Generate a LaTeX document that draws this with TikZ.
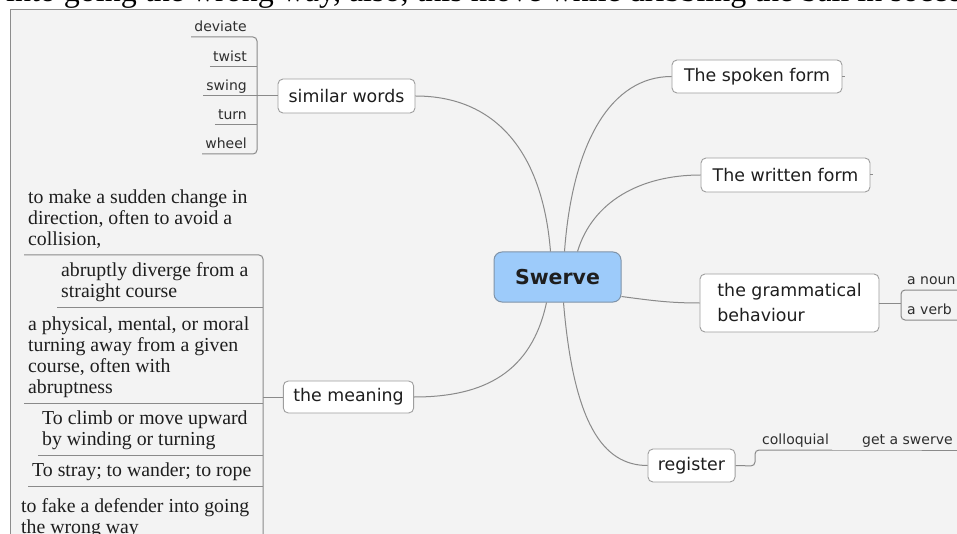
\documentclass[tikz,border=0pt]{standalone}
\usepackage{fontspec}
\setmainfont{Liberation Serif}
\newfontfamily\vsans{DejaVu Sans}
\usetikzlibrary{calc}
\definecolor{panel}{HTML}{F3F3F3}
\definecolor{framec}{HTML}{8C8C8C}
\definecolor{lineg}{HTML}{8A8A8A}
\definecolor{boxb}{HTML}{9E9E9E}
\definecolor{cent}{HTML}{9DCBFA}
\definecolor{centb}{HTML}{7F93A8}
\definecolor{txt}{HTML}{1E1E1E}
\definecolor{leaftxt}{HTML}{2E2E2E}
\begin{document}
\begin{tikzpicture}[x=1pt,y=-1pt,
  topic/.style={draw=boxb, fill=white, rounded corners=5pt, line width=0.9pt,
    font=\vsans\fontsize{17.4}{25}\selectfont, text=txt, inner xsep=10pt},
  leaf/.style={font=\vsans\fontsize{14}{17}\selectfont, text=leaftxt,
    inner xsep=3pt, inner ysep=2pt, text height=10.5pt, text depth=3.3pt},
  defn/.style={font=\fontsize{19.8}{21}\selectfont, align=left, text=txt,
    inner xsep=4pt, inner ysep=3pt, anchor=south west},
  conn/.style={draw=lineg, line width=1pt},
]
\useasboundingbox (0,0) rectangle (957,534);
\clip (0,0) rectangle (957,534);
\fill[white] (0,0) rectangle (957,534);
\draw[draw=framec, fill=panel, line width=1pt] (10,10) rectangle (980,580);

% cut-off caption line at the very top
\node[anchor=base west, inner sep=0pt, font=\fontsize{32}{36}\selectfont, text=black] (caption) at (6,1.5)
  {into going the wrong way, also, this move while dribbling the ball in soccer};

% central topic
\node[draw=centb, fill=cent, rounded corners=8pt, line width=1pt,
  minimum width=127pt, minimum height=50pt,
  font=\vsans\bfseries\fontsize{20.5}{24}\selectfont, text=txt] (swerve) at (557.5,277) {Swerve};

% main topics
\node[topic, minimum width=170pt, minimum height=33pt] (spoken) at (757,76.5) {The spoken form};
\node[topic, minimum width=169pt, minimum height=34pt] (written) at (785.5,175) {The written form};
\node[topic, minimum width=179pt, minimum height=58pt, align=left] (gram) at (789.5,303) {the grammatical\\behaviour};
\node[topic, minimum width=87pt, minimum height=33pt] (register) at (691.5,465.5) {register};
\node[topic, minimum width=129pt, minimum height=32pt] (meaning) at (348.5,397) {the meaning};
\node[topic, minimum width=137pt, minimum height=34pt] (similar) at (346.5,96) {similar words};

% curved connectors from the central topic
\draw[conn] ([xshift=-7pt]swerve.north) .. controls +(-8,-100) and +(80,0) .. (similar.east);
\draw[conn] ([xshift=7pt]swerve.north) .. controls +(8,-110) and +(-60,0) .. (spoken.west);
\draw[conn] ([xshift=20pt]swerve.north) .. controls +(15,-50) and +(-60,0) .. (written.west);
\draw[conn] ([yshift=6pt]swerve.south east) .. controls +(30,4) and +(-30,0) .. (gram.west);
\draw[conn] ([xshift=-11pt]swerve.south) .. controls +(-15,70) and +(70,0) .. (meaning.west -| meaning.east);
\draw[conn] ([xshift=6pt]swerve.south) .. controls +(10,120) and +(-45,0) .. (register.west);

% stubs
\draw[conn] (spoken.east) -- +(3,0);
\draw[conn] (written.east) -- +(3,0);

% similar words leaves
\coordinate (simbr) at (257,96);
\node[leaf, anchor=south east] (l1) at (250,37) {deviate};
\node[leaf, anchor=south east] (l2) at (250,67) {twist};
\node[leaf, anchor=south east] (l3) at (250,96) {swing};
\node[leaf, anchor=south east] (l4) at (250,125) {turn};
\node[leaf, anchor=south east] (l5) at (250,154) {wheel};
\draw[conn, rounded corners=4pt] (l1.south west) -- (l1.south west -| simbr) -- (l5.south west -| simbr) -- (l5.south west);
\draw[conn] (l2.south west) -- (l2.south west -| simbr);
\draw[conn] (l3.south west) -- (l3.south west -| simbr);
\draw[conn] (l4.south west) -- (l4.south west -| simbr);
\draw[conn] (similar.west) -- (simbr);

% meaning leaves
\coordinate (mbr) at (263,397);
\coordinate (mbot) at (263,600);
\node[defn] (m1) at (24,255) {to make a sudden change in\\direction, often to avoid a\\collision,\strut};
\node[defn] (m2) at (57,307) {abruptly diverge from a\\straight course\strut};
\node[defn] (m3) at (24,403) {a physical, mental, or moral\\turning away from a given\\course, often with\\abruptness\strut};
\node[defn] (m4) at (38,455) {To climb or move upward\\by winding or turning\strut};
\node[defn] (m5) at (28,486) {To stray; to wander; to rope\strut};
\node[defn] (m6) at (17,543) {to fake a defender into going\\the wrong way\strut};
\draw[conn, rounded corners=4pt] (m1.south west) -- (m1.south west -| mbr) -- (mbot);
\foreach \m in {m2,m3,m4,m5,m6} { \draw[conn] (\m.south west) -- (\m.south west -| mbr); }
\draw[conn] (meaning.west) -- (mbr);

% grammatical behaviour leaves
\coordinate (gbr) at (901,303);
\node[leaf, anchor=south west] (noun) at (904,290) {a noun};
\node[leaf, anchor=south west] (verb) at (904,320) {a verb};
\draw[conn, rounded corners=4pt] ([xshift=60pt]noun.south east) -- (noun.south west -| gbr) -- (verb.south west -| gbr) -- ([xshift=60pt]verb.south east);
\draw[conn] (gram.east) -- (gbr);

% register leaves
\coordinate (rbr) at (755,466);
\node[leaf, anchor=south west] (coll) at (759,450) {colloquial};
\node[leaf, anchor=south west] (gas) at (859,450) {get a swerve};
\draw[conn, rounded corners=4pt] (register.east) -- (rbr) -- (rbr |- coll.south) -- (coll.south east);
\draw[conn] (coll.south east) -- (gas.south west) -- ([xshift=30pt]gas.south east);
\end{tikzpicture}
\end{document}
